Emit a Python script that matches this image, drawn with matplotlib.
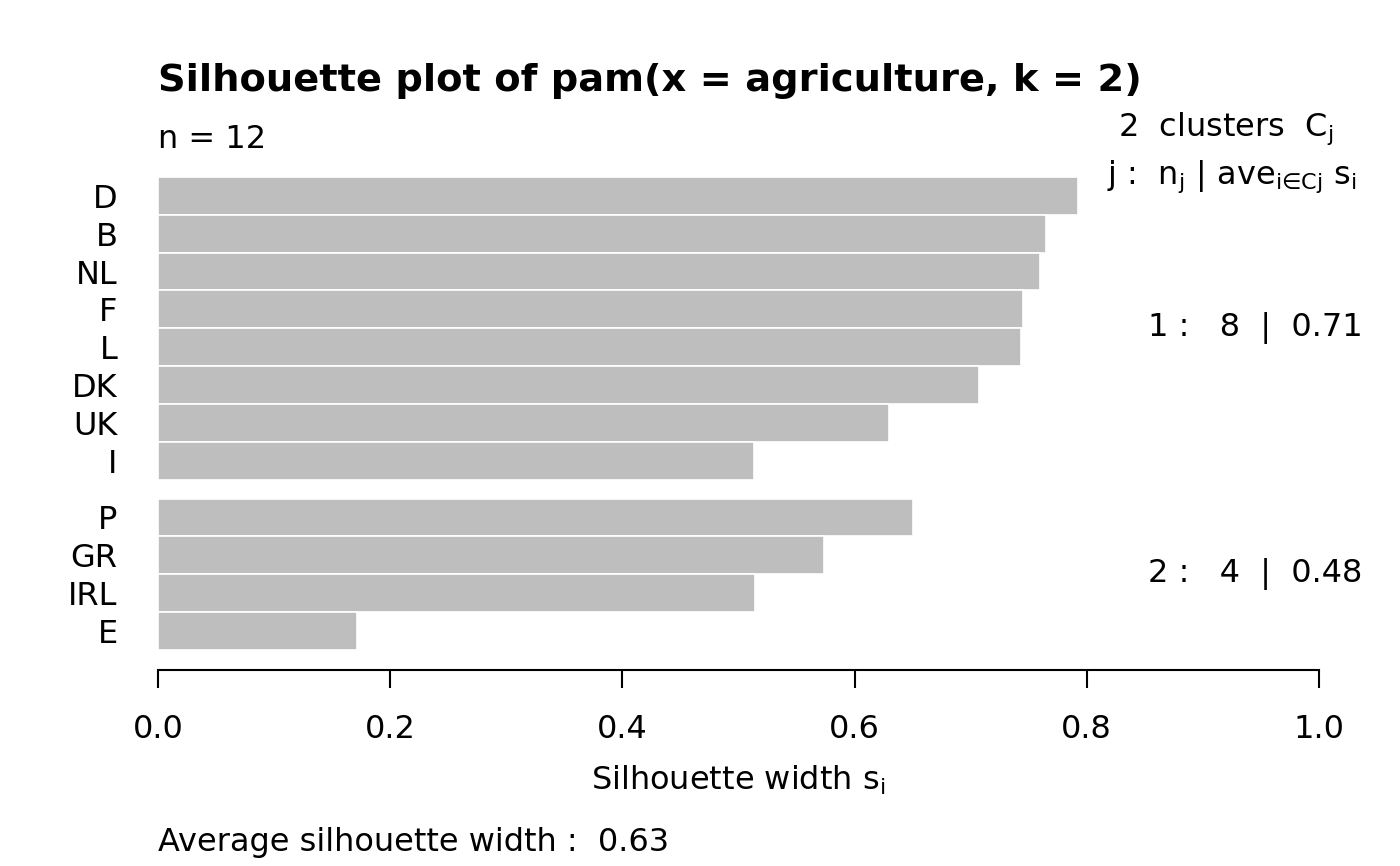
import matplotlib
matplotlib.use("Agg")
import matplotlib.pyplot as plt
import numpy as np

# silhouette widths, already sorted within each cluster (top to bottom)
labels_c1 = ["D", "B", "NL", "F", "L", "DK", "UK", "I"]
sil_c1 = [0.792, 0.765, 0.760, 0.745, 0.743, 0.707, 0.630, 0.513]
labels_c2 = ["P", "GR", "IRL", "E"]
sil_c2 = [0.650, 0.574, 0.514, 0.171]

cluster_sizes = [len(sil_c1), len(sil_c2)]
cluster_avgs = [np.mean(sil_c1), np.mean(sil_c2)]
overall_avg = np.mean(sil_c1 + sil_c2)

plt.rcParams["font.family"] = "DejaVu Sans"
plt.rcParams["mathtext.fontset"] = "dejavusans"
fs = 23

fig = plt.figure(figsize=(14, 8.66), dpi=100)
W, H = 1400, 866
ax = fig.add_axes([158 / W, 1 - 670 / H, 1161 / W, 512 / H])

# y positions: bars of width 1, gap of 0.5 between clusters, first cluster on top
ypos_c2 = np.arange(len(sil_c2))[::-1] + 0.5
ypos_c1 = np.arange(len(sil_c1))[::-1] + len(sil_c2) + 0.5 + 0.5
ypos = np.concatenate([ypos_c1, ypos_c2])
vals = sil_c1 + sil_c2
labs = labels_c1 + labels_c2

ax.barh(ypos, vals, height=1.0, color="#bebebe", edgecolor="white", linewidth=1.2)

ax.set_xlim(0, 1)
ax.set_ylim(-0.53, 13.0)
for s in ["top", "right", "left"]:
    ax.spines[s].set_visible(False)
ax.spines["bottom"].set_linewidth(1.5)
ax.set_xticks(np.arange(0, 1.01, 0.2))
ax.set_xticklabels([f"{v:.1f}" for v in np.arange(0, 1.01, 0.2)], fontsize=fs)
ax.tick_params(axis="x", length=13, width=1.5, pad=19)
ax.set_yticks(ypos)
ax.set_yticklabels(labs, fontsize=fs)
ax.tick_params(axis="y", length=0, pad=29)


def ftext(x, y, s, **kw):
    fig.text(x / W, 1 - y / H, s, va="center", **kw)


ftext(158, 81, "Silhouette plot of pam(x = agriculture, k = 2)", fontsize=27.6,
      fontweight="bold", ha="left")
ftext(158, 139, "n = 12", fontsize=fs, ha="left")
ftext(1333, 129, r"2  clusters  $\mathrm{C}_\mathrm{j}$", fontsize=fs, ha="right")
ftext(1357, 177, "j :  $\\mathrm{n}_\\mathrm{j}$ | $\\mathrm{ave}_{\\mathrm{i∈Cj}}$ $\\mathrm{s}_\\mathrm{i}$",
      fontsize=fs, ha="right")

# per-cluster summaries at the vertical centre of each cluster
centres = [np.mean(ypos_c1), np.mean(ypos_c2)]
for j, (n, a, yc) in enumerate(zip(cluster_sizes, cluster_avgs, centres), start=1):
    ax.text(1.0375, yc, f"{j} :   {n}  |  {a:.2f}", fontsize=fs, ha="right",
            va="center", clip_on=False)

ftext(738, 780, r"Silhouette width $\mathrm{s}_\mathrm{i}$", fontsize=fs, ha="center")
ftext(158, 843, f"Average silhouette width :  {overall_avg:.2f}", fontsize=fs, ha="left")

fig.savefig("out.png", dpi=100)
